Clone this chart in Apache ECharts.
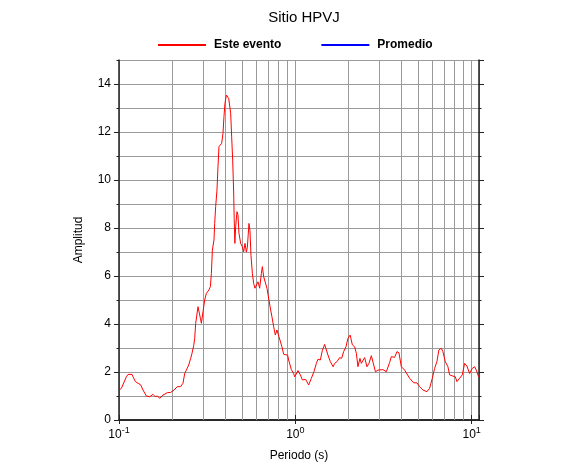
<!DOCTYPE html>
<html>
<head>
<meta charset="utf-8">
<style>html,body{margin:0;padding:0;background:#fff;}#chart{width:586px;height:475px;}</style>
<script src="https://cdn.jsdelivr.net/npm/echarts@6/dist/echarts.min.js"></script>
</head>
<body>
<div id="chart"></div>
<script>
const seriesNames = ['Este evento', 'Promedio'];
const periods = [0.1,0.1032,0.1054,0.1101,0.1125,0.1150,0.1185,0.1201,0.1239,0.1282,0.1328,0.1368,0.1430,0.1493,0.1559,0.1608,0.1651,0.1701,0.1776,0.1881,
0.1964,0.2051,0.2144,0.2238,0.2306,0.2358,0.2411,0.2484,0.2550,0.2594,0.2652,0.2687,0.2722,0.2805,0.2842,0.2894,0.2932,0.2994,0.3061,0.3130,
0.3238,0.3298,0.3341,0.3385,0.3456,0.3488,0.3534,0.3594,0.3642,0.3689,0.3757,0.3822,0.3887,0.3938,0.3990,0.4064,0.4133,0.4187,0.4242,0.4298,
0.4354,0.4412,0.4469,0.4499,0.4540,0.4588,0.4666,0.4728,0.4790,0.4897,0.5007,0.5093,0.5180,0.5275,0.5345,0.5401,0.5457,0.5529,0.5602,0.5705,
0.5803,0.5902,0.6011,0.6138,0.6275,0.6416,0.6501,0.6612,0.6725,0.6902,0.7085,0.7244,0.7368,0.7533,0.7702,0.7865,0.8073,0.8254,0.8395,0.8584,
0.8811,0.9044,0.9162,0.9491,0.9781,0.9909,1.0105,1.0345,1.0674,1.0957,1.1440,1.1897,1.2323,1.2749,1.3154,1.3432,1.3860,1.4227,1.4660,1.4892,
1.5306,1.5793,1.6381,1.6705,1.7214,1.7831,1.8303,1.8787,1.9360,1.9872,2.0451,2.1047,2.1689,2.2176,2.2644,2.3242,2.3671,2.4170,2.4713,2.5466,
2.6140,2.6973,2.7542,2.8456,2.9400,3.0060,3.1383,3.2808,3.4254,3.5023,3.6563,3.7677,3.8674,3.9905,4.1660,4.4463,4.6846,4.8906,5.0659,5.2889,
5.5720,5.7717,5.9788,6.1611,6.3488,6.5168,6.7245,6.8666,7.0851,7.3296,7.4942,7.8244,8.0730,8.2436,8.5391,8.8451,9.1149,9.3926,9.7297,10.078,
10.386,10.619,10.942];
const esteEvento = [1.25,1.32,1.39,1.8,1.9,1.83,1.9,1.8,1.6,1.53,1.46,1.25,1.0,0.97,1.07,0.97,1.0,0.9,1.04,1.14,
1.15,1.25,1.39,1.39,1.53,1.94,2.08,2.29,2.57,2.78,3.1,3.4,4.03,4.72,4.65,4.24,4.03,4.51,5.0,5.28,
5.42,5.56,6.11,7.08,7.5,8.19,8.9,9.58,10.56,11.39,11.46,11.53,11.94,12.64,13.2,13.54,13.61,13.4,13.33,12.78,
11.8,10.83,9.5,8.4,7.36,8.05,8.68,8.54,7.78,7.36,7.22,7.01,7.36,7.0,7.2,7.7,8.19,7.9,6.85,6.11,
5.69,5.49,5.42,5.76,5.49,6.11,6.39,5.97,5.9,5.49,5.0,4.58,4.3,3.89,3.54,3.75,3.47,3.54,3.05,2.74,
2.78,2.7,2.5,2.1,1.94,1.8,1.9,2.06,1.88,1.67,1.69,1.46,1.74,2.01,2.36,2.53,2.5,2.9,3.15,3.22,
2.71,2.43,2.22,2.36,2.43,2.6,2.57,2.85,3.05,3.4,3.54,3.13,3.05,2.78,2.22,2.57,2.36,2.43,2.6,2.22,
2.36,2.68,2.6,2.01,2.08,2.15,2.1,2.01,2.4,2.64,2.61,2.85,2.8,2.22,2.08,1.74,1.55,1.55,1.39,1.25,
1.18,1.32,1.74,2.15,2.43,2.92,2.99,2.85,2.43,2.22,1.88,1.83,1.8,1.6,1.74,1.88,2.36,2.25,1.94,2.15,
2.22,2.08,1.8];
const promedio = [];
const minorGridX = [0.2,0.3,0.4,0.5,0.6,0.7,0.8,0.9,2,3,4,5,6,7,8,9];
const xMin = 0.1, xMax = 11, yMin = 0, yMax = 15;

const FONT = '"Liberation Sans", Arial, Helvetica, sans-serif';
const frame = {show:true, lineStyle:{color:'#222', width:1.5}};
const grid = {color:'#9a9a9a', width:1};

const chart = echarts.init(document.getElementById('chart'), null, {renderer:'canvas'});

function yAx(pos, interval, tickLen, showLine, showLabel, showSplit, extra) {
  return Object.assign({
    type:'value', min:yMin, max:yMax, interval:interval, position:pos,
    axisLine: showLine ? frame : {show:false},
    axisTick:{show:true, inside:false, length:tickLen, lineStyle:{color:'#222', width:1}},
    axisLabel:{show:showLabel, showMaxLabel:false, fontFamily:FONT, fontSize:12, color:'#000', margin:8},
    splitLine:{show:showSplit, lineStyle:grid}
  }, extra || {});
}

const option = {
  animation:false,
  title:{text:'Sitio HPVJ', left:299, top:5, textAlign:'center',
    textStyle:{fontFamily:FONT, fontSize:15, fontWeight:'normal', color:'#000'}},
  legend:{left:158, top:39, padding:0, icon:'rect', itemWidth:48, itemHeight:2, itemGap:40,
    data:seriesNames,
    textStyle:{fontFamily:FONT, fontSize:12, fontWeight:'bold', color:'#000', padding:[0,0,0,3]}},
  grid:{left:119, right:107, top:60, bottom:55},
  xAxis:[
    {type:'log', logBase:10, min:xMin, max:xMax, position:'bottom',
     name:'Periodo (s)', nameLocation:'middle', nameGap:30,
     nameTextStyle:{fontFamily:FONT, fontSize:12, color:'#000'},
     axisLine:frame,
     axisTick:{show:true, length:4, lineStyle:{color:'#222'}},
     axisLabel:{showMaxLabel:false, margin:6,
       formatter:function(v){const e=Math.log10(v); if(Math.abs(e-Math.round(e))>1e-6) return ''; return '{b|10}{s|'+Math.round(e)+'}';},
       rich:{b:{fontFamily:FONT, fontSize:12, color:'#000', verticalAlign:'bottom'},
             s:{fontFamily:FONT, fontSize:9, color:'#000', verticalAlign:'top', padding:[0,0,6,0]}}},
     splitLine:{show:true, lineStyle:grid}},
    {type:'log', logBase:10, min:xMin, max:xMax, position:'top',
     axisLine:frame,
     axisTick:{show:true, length:5, lineStyle:{color:'#222'}},
     axisLabel:{show:false}, splitLine:{show:false}}
  ],
  yAxis:[
    yAx('left', 2, 5, true, true, false, {name:'Amplitud', nameLocation:'middle', nameGap:34,
       nameTextStyle:{fontFamily:FONT, fontSize:12, color:'#000'}}),
    yAx('left', 1, 2.5, false, false, true),
    yAx('right', 2, 5, true, false, false),
    yAx('right', 1, 2.5, false, false, false)
  ],
  series:[
    {name:seriesNames[0], type:'line', xAxisIndex:0, yAxisIndex:0, z:3,
     data:periods.map((p,i)=>[p, esteEvento[i]]),
     showSymbol:false, symbol:'none', color:'#ff0000',
     lineStyle:{color:'#ff0000', width:1},
     markLine:{silent:true, z:1, symbol:['none','none'], animation:false,
       label:{show:false}, emphasis:{disabled:true},
       lineStyle:{color:grid.color, width:1, type:'solid'},
       data:minorGridX.map(v=>({xAxis:v}))}},
    {name:seriesNames[1], type:'line', xAxisIndex:0, yAxisIndex:0,
     data:promedio, showSymbol:false, color:'#0000ff', lineStyle:{color:'#0000ff', width:1}}
  ]
};
chart.setOption(option);
</script>
</body>
</html>
